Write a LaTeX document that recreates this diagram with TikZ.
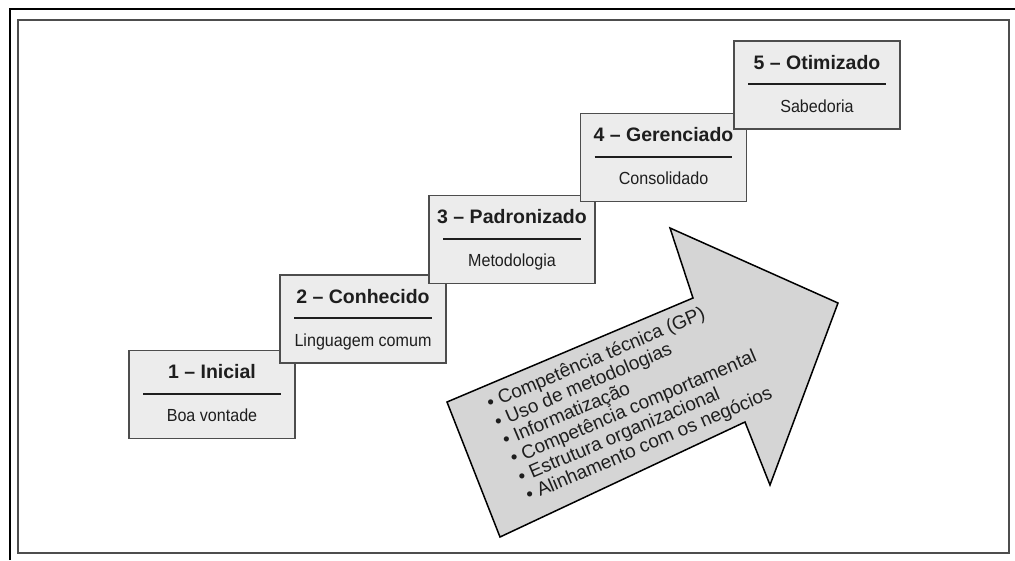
\documentclass[tikz,border=0pt]{standalone}
\usepackage{fontspec}
\setmainfont{Liberation Sans}
\usetikzlibrary{calc}
\definecolor{boxfill}{HTML}{ECECEC}
\definecolor{boxline}{HTML}{4D4D4D}
\definecolor{arrowfill}{HTML}{D5D5D5}
\definecolor{ink}{HTML}{1E1E1E}
\begin{document}
\begin{tikzpicture}[x=1pt,y=-1pt,
  stage/.style={draw=boxline, line width=1.6pt, fill=boxfill,
    minimum width=166pt, minimum height=88pt, inner sep=0pt},
  stagetitle/.style={font=\fontsize{19.5}{22}\selectfont\bfseries, text=ink,
    inner sep=0pt, anchor=base},
  stagesub/.style={font=\fontsize{17.5}{20}\selectfont, text=ink,
    inner sep=0pt, anchor=base},
  rulebar/.style={line width=2.2pt, draw=ink},
  bigarrow/.style={draw=black, line width=1.5pt, fill=arrowfill, line join=miter},
  item/.style={font=\fontsize{19}{20}\selectfont, text=ink,
    anchor=base west, rotate=23, inner sep=0pt},
]
\useasboundingbox (0,0) rectangle (1015,560);
\fill[white] (0,0) rectangle (1015,560);

% frames
\draw[line width=1.6pt] (10,560) -- (10,9) -- (1015,9);
\draw[boxline, line width=2pt] (18,20) rectangle (1009,553);

% big arrow
\coordinate (tailtop) at (447,402);
\coordinate (notchtop) at (693,298);
\coordinate (barbtop) at (670,228);
\coordinate (tip) at (838,303);
\coordinate (barbbot) at (770,485);
\coordinate (notchbot) at (745,422);
\coordinate (tailbot) at (500,537);
\draw[bigarrow] (tailtop) -- (notchtop) -- (barbtop) -- (tip) -- (barbbot)
  -- (notchbot) -- (tailbot) -- cycle;

% list on the arrow
\foreach \t [count=\i from 0] in {Competência técnica (GP), Uso de metodologias,
    Informatização, Competência comportamental, Estrutura organizacional,
    Alinhamento com os negócios}
  \node[item] (item\i) at ({490+7.8*\i},{409.7+18.4*\i}) {•\ \t};

% maturity stages
\foreach \n/\cx/\cy/\ti/\su in {1/212/394.5/1 – Inicial/Boa vontade,
    2/363/319/2 – Conhecido/Linguagem comum,
    3/512/239.5/3 – Padronizado/Metodologia,
    4/663.5/157.5/4 – Gerenciado/Consolidado,
    5/817/85/5 – Otimizado/Sabedoria}{
  \node[stage] (stage\n) at (\cx,\cy) {};
  \node[stagetitle] (title\n) at ($(stage\n.north)+(0,29)$) {\ti};
  \draw[rulebar] ($(stage\n.north west)+(15,44)$) -- ($(stage\n.north east)+(-15,44)$);
  \node[stagesub] (sub\n) at ($(stage\n.north)+(0,72)$) {\scalebox{0.92}[1]{\su}};
}
\end{tikzpicture}
\end{document}
